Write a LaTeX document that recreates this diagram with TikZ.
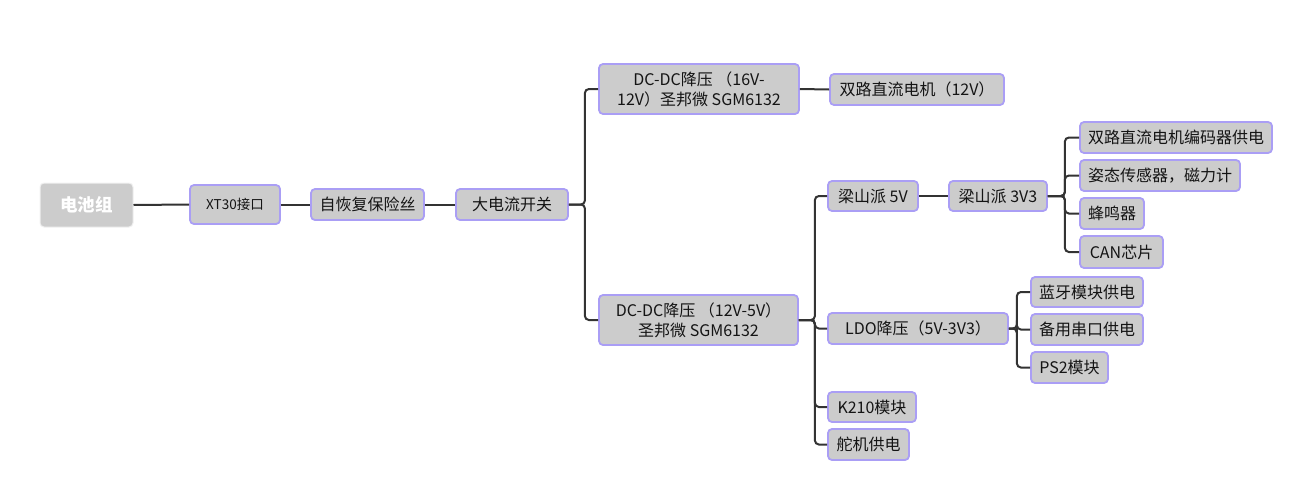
\documentclass[tikz,border=0pt]{standalone}
\usepackage{fontspec}
\setmainfont{Noto Sans CJK SC}
\definecolor{boxfill}{HTML}{CCCCCC}
\definecolor{boxborder}{HTML}{AA9EF5}
\definecolor{lineclr}{HTML}{333333}
\definecolor{txt}{HTML}{141414}
\tikzset{
  box/.style={draw=boxborder, fill=boxfill, line width=1.8pt, rounded corners=4pt,
    inner sep=0pt, font=\fontsize{16}{20}\selectfont, text=txt, align=center},
  rootbox/.style={draw=black!6, fill=boxfill, line width=1pt, rounded corners=4pt,
    inner sep=0pt, font=\fontsize{17.5}{20}\selectfont\bfseries, text=white},
  conn/.style={draw=lineclr, line width=2pt, rounded corners=4pt},
}
\begin{document}
\begin{tikzpicture}[x=1pt,y=-1pt]
\useasboundingbox (0,0) rectangle (1298,490);
% nodes
\node[rootbox, minimum width=93pt, minimum height=44pt] (bat) at (86.5,205) {电池组};
\node[box, minimum width=90pt, minimum height=39pt, font=\fontsize{13.5}{16}\selectfont] (xt) at (235,204.5) {XT30接口};
\node[box, minimum width=113pt, minimum height=31pt] (fuse) at (367.5,204.5) {自恢复保险丝};
\node[box, minimum width=112pt, minimum height=31pt] (sw) at (512,204.5) {大电流开关};
\node[box, minimum width=200pt, minimum height=50pt] (dc1) at (699,89) {DC-DC降压 （16V-\\12V）圣邦微 SGM6132};
\node[box, minimum width=174pt, minimum height=31pt] (motor) at (917,89.5) {双路直流电机（12V）};
\node[box, minimum width=199pt, minimum height=50pt] (dc2) at (698.5,320) {DC-DC降压 （12V-5V）\\圣邦微 SGM6132};
\node[box, minimum width=90pt, minimum height=30pt] (lsp5) at (873,196) {梁山派 5V};
\node[box, minimum width=98pt, minimum height=30pt] (lsp3) at (998,196) {梁山派 3V3};
\node[box, minimum width=192pt, minimum height=31pt] (enc) at (1176,137.5) {双路直流电机编码器供电};
\node[box, minimum width=160pt, minimum height=31pt] (imu) at (1160,175.5) {姿态传感器，磁力计};
\node[box, minimum width=64pt, minimum height=31pt] (buz) at (1112,213.5) {蜂鸣器};
\node[box, minimum width=83pt, minimum height=32pt] (can) at (1121.5,252) {CAN芯片};
\node[box, minimum width=180pt, minimum height=31pt] (ldo) at (918,328.5) {LDO降压（5V-3V3）};
\node[box, minimum width=112pt, minimum height=30pt] (bt) at (1087,292) {蓝牙模块供电};
\node[box, minimum width=112pt, minimum height=31pt] (uart) at (1087,329.5) {备用串口供电};
\node[box, minimum width=77pt, minimum height=31pt] (ps2) at (1069.5,367.5) {PS2模块};
\node[box, minimum width=88pt, minimum height=30pt] (k210) at (872,407) {K210模块};
\node[box, minimum width=81pt, minimum height=31pt] (servo) at (868.5,444.5) {舵机供电};
% connectors
\draw[conn] (bat.east) -- (xt.west);
\draw[conn] (xt.east) -- (fuse.west);
\draw[conn] (fuse.east) -- (sw.west);
\draw[conn] (sw.east) -- ++(16,0) |- (dc1.west);
\draw[conn] (sw.east) -- ++(16,0) |- (dc2.west);
\draw[conn] (dc1.east) -- (motor.west);
\draw[conn] (dc2.east) -- ++(16,0) |- (lsp5.west);
\draw[conn] (dc2.east) -- ++(16,0) |- (ldo.west);
\draw[conn] (dc2.east) -- ++(16,0) |- (k210.west);
\draw[conn] (dc2.east) -- ++(16,0) |- (servo.west);
\draw[conn] (lsp5.east) -- (lsp3.west);
\draw[conn] (lsp3.east) -- ++(17,0) |- (enc.west);
\draw[conn] (lsp3.east) -- ++(17,0) |- (imu.west);
\draw[conn] (lsp3.east) -- ++(17,0) |- (buz.west);
\draw[conn] (lsp3.east) -- ++(17,0) |- (can.west);
\draw[conn] (ldo.east) -- ++(8,0) |- (bt.west);
\draw[conn] (ldo.east) -- ++(8,0) |- (uart.west);
\draw[conn] (ldo.east) -- ++(8,0) |- (ps2.west);
\end{tikzpicture}
\end{document}
